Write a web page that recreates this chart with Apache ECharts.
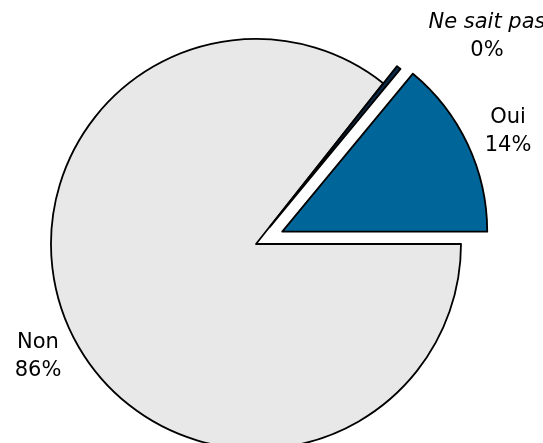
<!DOCTYPE html>
<html>
<head>
<meta charset="utf-8">
<script src="https://cdn.jsdelivr.net/npm/echarts@6/dist/echarts.min.js"></script>
<style>
html, body { margin: 0; padding: 0; background: #ffffff; }
#chart { width: 543px; height: 443px; }
</style>
</head>
<body>
<div id="chart"></div>
<script>
const categories = ['Oui', 'Ne sait pas', 'Non'];
const values = [14.0, 0.35, 85.65];
const exploded = [true, true, false];

const colors = ['#006699', '#0a2a4a', '#e8e8e8'];
const explodeDistance = [29, 22, 0];
const labelSpots = [[508, 132], [487, 37], [38, 357]];

const chart = echarts.init(document.getElementById('chart'), null, { renderer: 'canvas' });

const FONT = 'Verdana, "DejaVu Sans", sans-serif';

const common = {
  type: 'pie',
  center: [256, 244],
  radius: 205,
  startAngle: 0,
  clockwise: false,
  percentPrecision: 0,
  avoidLabelOverlap: false,
  silent: true,
  emphasis: { disabled: true }
};

// One drawing series per explode distance, each showing only its own slices
function sliceSeries(onlyIdx, offset) {
  return Object.assign({}, common, {
    selectedMode: 'multiple',
    selectedOffset: offset,
    itemStyle: { borderColor: '#000000', borderWidth: 1.8 },
    select: { itemStyle: { borderColor: '#000000', borderWidth: 1.8 } },
    label: { show: false },
    labelLine: { show: false },
    data: categories.map((name, i) => {
      const visible = onlyIdx.indexOf(i) >= 0;
      return {
        name: name,
        value: values[i],
        selected: exploded[i],
        itemStyle: visible ? { color: colors[i] } : { opacity: 0, borderWidth: 0 }
      };
    })
  });
}

chart.setOption({
  animation: false,
  backgroundColor: '#ffffff',
  series: [
    sliceSeries([0, 2], explodeDistance[0]),
    sliceSeries([1], explodeDistance[1]),
    Object.assign({}, common, {
      selectedMode: false,
      itemStyle: { color: 'rgba(0,0,0,0)', borderWidth: 0 },
      label: {
        show: true,
        position: 'inside',
        formatter: function (p) {
          return (p.dataIndex === 1 ? '{it|' + p.name + '}' : p.name) + '\n' + p.percent + '%';
        },
        fontFamily: FONT,
        fontSize: 21,
        lineHeight: 28,
        color: '#000000',
        align: 'center',
        verticalAlign: 'middle',
        rich: {
          it: { fontFamily: FONT, fontSize: 21, lineHeight: 28, fontStyle: 'italic', color: '#000000' }
        }
      },
      labelLine: { show: false },
      labelLayout: function (params) {
        const p = labelSpots[params.dataIndex];
        return { x: p[0], y: p[1], align: 'center', verticalAlign: 'middle' };
      },
      data: categories.map((name, i) => ({ name: name, value: values[i] }))
    })
  ]
});
</script>
</body>
</html>
